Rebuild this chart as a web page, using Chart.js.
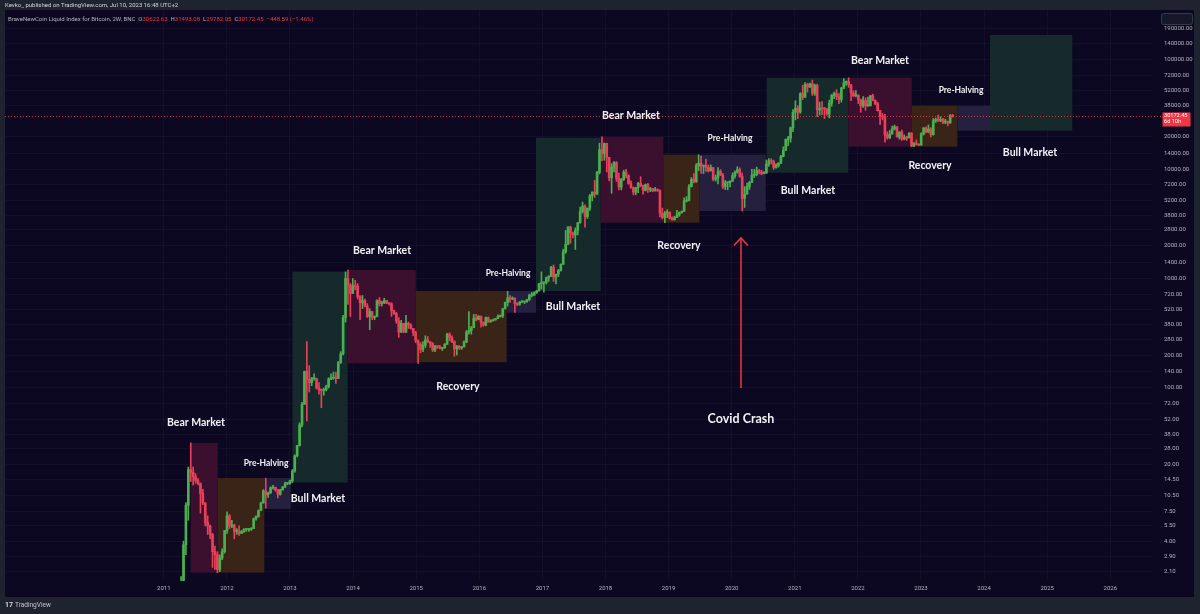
<!DOCTYPE html>
<html><head><meta charset="utf-8">
<script src="https://cdn.jsdelivr.net/npm/chart.js@4.4.0/dist/chart.umd.min.js"></script>
<style>html,body{margin:0;padding:0;background:#1f2330;overflow:hidden}canvas{display:block}</style>
</head><body><canvas id="c" width="1200" height="614"></canvas>
<script>
// ---- data (2-week candles, BraveNewCoin Liquid Index for Bitcoin) ----
const startYear = 2011 + 86 / 365;      // first candle opens 2011-03-28
const periodYears = 14 / 365.25;         // 2W candles
const firstOpen = 0.78;
const closes = [0.75,1.6,3.7,8.5,18.0,17.0,15.5,14.3,13.4,10.9,8.9,5.9,5.5,4.6,3.2,3.0,2.2,2.8,3.2,5.0,
6.8,5.5,5.6,4.9,4.9,4.7,4.9,5.1,5.1,5.1,5.2,6.4,6.7,7.6,8.9,11.5,10.6,11.0,12.3,12.4,
11.7,10.7,11.7,12.5,13.4,13.4,14.2,17.5,24,29.8,46,71,142,120,112,122,122,100,96,95,
96,103,121,123,124,122,170,205,440,1000,870,730,860,850,680,600,630,560,450,500,
440,450,630,590,600,630,595,590,510,480,410,325,390,325,390,375,350,320,270,250,
225,245,275,265,255,223,240,237,230,233,250,310,290,265,228,240,232,238,262,325,
335,355,435,420,450,400,375,440,400,410,420,430,450,455,530,605,665,650,660,590,
580,610,610,615,640,700,705,735,770,895,910,920,1015,1050,1270,1030,1090,1180,1350,1750,
2050,2950,2600,2500,2750,3230,4100,4580,3680,4380,5700,6140,5900,9300,15000,13900,17100,12800,8300,10400,
11450,8200,6850,8000,9350,8700,7350,6780,6150,6770,7400,7030,6400,7200,6500,6620,6300,6450,6380,3950,
3600,3950,4050,3550,3450,3600,3800,4000,4100,5100,5150,6900,8050,7650,10700,11300,10600,10800,10300,9600,
10300,8050,8300,9550,8800,6900,7500,7500,7750,8700,9350,9900,8550,5400,5900,6900,7550,8750,8900,9700,
9350,9050,9150,11100,11850,11700,10350,10750,11300,13000,14800,18600,19150,23800,33000,36000,33100,48800,45200,59000,
55800,60100,49100,58200,34700,35800,35500,35300,31800,39900,47000,48900,46000,43200,54700,61300,63300,58700,49400,46700,
47300,43100,37900,42200,37700,37800,46800,42300,39500,34100,30300,29900,20500,19300,20800,23300,24300,19600,21800,18800,
19400,19200,21300,16300,17100,16750,16550,20900,23700,21800,23200,20600,27500,28300,27800,28400,26800,27200,26300,30622.63,
30172.45];
const highs = [0.95,1.9,4.0,9.0,19,31.5,19,16.5,14.9,13.6,11.9,9.0,6.8,5.6,4.7,3.6,3.2,3.0,3.4,5.0,
7.4,7.0,6.2,5.7,5.2,5.5,5.0,5.2,5.2,5.2,5.3,6.5,6.8,7.7,9.1,11.8,15.0,11.2,12.5,12.9,
12.2,11.9,11.9,12.6,13.8,13.7,14.4,18,24.5,30,48,74,143,266,160,125,135,123,112,98,
100,106,124,135,140,140,175,215,460,1150,1195,900,1000,960,900,700,700,650,590,530,
500,455,640,670,620,660,630,600,600,515,490,440,415,390,460,400,385,340,330,275,
260,265,300,295,265,260,245,245,245,235,255,315,320,300,270,245,245,240,270,335,
500,365,470,470,460,455,400,445,445,420,425,432,465,465,535,610,765,700,680,665,
600,615,630,620,645,720,745,755,780,905,1150,930,1030,1060,1290,1330,1100,1210,1360,1850,
2750,2980,3000,2650,2900,3250,4480,4980,4700,4400,5860,6200,7880,9500,17200,19650,17300,17200,11700,11200,
11700,11700,9180,8200,9750,9950,8850,7800,6850,6800,7560,8500,7150,7300,7400,6800,6650,6800,6600,6450,
4400,4100,4250,4050,3650,3700,4200,4050,4150,5450,5600,7200,8350,9100,11200,13500,13100,10900,12300,10900,
10900,10350,8800,10300,9900,9150,7850,7600,7800,9200,9600,10500,10250,9200,6900,7450,7700,9950,9950,10400,
9950,9750,9450,12100,12450,12400,12050,11150,11450,13350,15950,18800,19900,24200,34800,41950,38000,49700,58300,61700,
60600,61000,64900,59500,59600,40800,41300,36600,35900,42600,48100,50500,52900,48800,56000,67000,63600,68200,59200,51900,
52000,47500,43500,45800,44700,45400,46900,48200,42900,40800,34300,32300,31600,21900,22500,24600,25200,24400,21800,22700,
20500,19900,21400,21400,17400,18400,16950,21400,23900,24250,25250,23900,28900,29200,31000,30000,29000,28450,27400,31400,
31493.08];
const lows = [0.67,0.7,1.5,3.0,6.2,14,13,13.5,13.0,7.2,8.6,5.5,4.6,4.2,2.3,2.2,2.06,2.1,2.7,3.1,
4.7,5.2,5.3,4.2,4.6,4.5,4.8,4.8,4.9,4.9,5.0,5.2,6.2,6.6,7.6,8.9,8.0,10.0,10.9,11.9,
11.4,9.9,10.5,11.7,12.3,13.1,13.2,13.7,17,23.5,29.5,44,71,50,92,105,118,98,88,66,
86,94,100,119,120,110,122,168,200,400,580,450,730,790,650,420,530,550,440,340,
420,420,445,560,560,590,590,570,450,470,390,290,320,320,320,350,345,300,260,168,
210,215,235,260,235,215,215,230,228,220,230,250,270,260,195,200,225,225,236,260,
310,310,355,410,420,360,365,370,400,400,410,415,430,445,440,525,560,605,640,490,
565,570,600,590,605,630,680,700,740,765,800,750,890,940,1040,940,890,1040,1170,1340,
1700,2050,2100,2350,1840,2500,3200,3950,2950,3530,4180,5110,5500,5850,9000,11900,12000,9400,7800,6000,
9400,7700,6450,6450,7850,8300,7250,6650,5800,5800,6080,6900,5880,6300,6100,6200,6200,6350,6240,3650,
3500,3234,3600,3500,3400,3400,3600,3700,3950,4100,5000,5100,6850,7450,7550,9650,9100,9100,9500,9400,
9700,7800,7750,7300,8700,6600,6500,6450,6850,7700,8250,9150,8400,4134,4450,5900,6500,7500,8350,8650,
9000,8850,9050,9250,10600,11100,9900,10200,10400,11200,12900,14800,16300,17600,21900,28100,28800,32300,43000,45000,
50400,55900,47000,47000,30000,31100,31400,28800,31100,29300,37400,43900,43000,39600,40800,54000,58000,55600,42000,45600,
45500,39600,33000,36600,34400,37200,37600,42000,38600,33800,25400,28100,17600,18700,18900,20800,22700,19600,18700,18200,
18500,18200,19200,15990,15990,16600,16350,16500,20400,21400,21500,19600,20400,26600,27100,27000,25900,25900,24800,26200,
29782.05];

// cycle boxes (time in years, price)
const boxStart = [2011.426,2011.854,2012.593,2013.040,2013.914,2014.992,2016.434,2016.898,2017.924,2018.916,2019.487,2020.555,2021.848,2022.853,2023.576,2024.094];
const boxEnd   = [2011.854,2012.593,2013.011,2013.914,2014.992,2016.434,2016.898,2017.924,2018.916,2019.487,2020.540,2021.848,2022.853,2023.576,2024.094,2025.398];
const boxLow   = [2.06,2.06,7.86,13.7,168,172,487,769,3234,3234,4134,9250,15990,15990,22390,22390];
const boxHigh  = [31.5,15.07,15.07,1154,1196,769,769,19300,19700,13510,13510,68200,68200,37860,37860,167500];
const boxKind  = ['bear','recovery','pre','bull','bear','recovery','pre','bull','bear','recovery','pre','bull','bear','recovery','pre','bull'];

// phase labels (anchored in data coordinates)
const labelTexts  = ['Bear Market','Pre-Halving','Bull Market','Bear Market','Recovery','Pre-Halving','Bull Market','Bear Market','Pre-Halving','Recovery','Bull Market','Bear Market','Pre-Halving','Recovery','Bull Market','Covid Crash'];
const labelYears  = [2011.51,2012.62,2013.443,2014.458,2015.662,2016.455,2017.485,2018.404,2019.973,2019.165,2021.208,2022.35,2023.634,2023.143,2024.728,2020.147];
const labelPrices = [47.9,20.7,9.69,1783,102,1123,549,30480,19190,1981,6295,96900,52630,10650,13990,52.1];
const labelKinds  = ['phase','small','phase','phase','phase','small','phase','phase','small','phase','phase','phase','small','phase','phase','big'];
const arrowYear = 2020.147, arrowFrom = 100, arrowTo = 2345;

const yearTicks = [2011,2012,2013,2014,2015,2016,2017,2018,2019,2020,2021,2022,2023,2024,2025,2026];
const priceTicks = [2.1,2.9,4,5.5,7.5,10.5,14.5,20,28,38,52,72,100,140,200,280,380,520,720,1000,1400,2000,2800,3800,5200,7200,10000,14000,20000,38000,52000,72000,100000,140000,190000];
const lastPrice = 30172.45;
const legendOHLC = ['30622.63','31493.08','29782.05','30172.45'];
const legendChange = '\u2212448.59 (\u22121.46%)';

// ---- styles ----
const BG = '#0c0821', FRAME = '#1f2330';
const GREEN = '#4caf50', RED = '#e8415a';
const BOXCOL = {bear:'#3a102e', recovery:'#3a2418', pre:'#24203e', bull:'#162a2c'};

// ---- build candles ----
const wickData = [], bodyData = [], candleColors = [];
for (let i = 0; i < closes.length; i++) {
  const o = i === 0 ? firstOpen : closes[i - 1];
  const c = closes[i];
  const x = startYear + i * periodYears;
  wickData.push({x, y: [Math.min(lows[i], o, c), Math.max(highs[i], o, c)]});
  bodyData.push({x, y: [Math.min(o, c), Math.max(o, c)]});
  candleColors.push(c >= o ? GREEN : RED);
}

const framePlugin = {
  id: 'frame',
  beforeDraw(chart) {
    const g = chart.ctx;
    g.save();
    g.fillStyle = FRAME; g.fillRect(0, 0, chart.width, chart.height);
    g.fillStyle = BG; g.fillRect(5, 10, 1189, 587);
    g.restore();
  },
  beforeDatasetsDraw(chart) {
    const g = chart.ctx, xs = chart.scales.x, ys = chart.scales.y, a = chart.chartArea;
    g.save();
    g.beginPath(); g.rect(a.left, a.top, a.right - a.left, a.bottom - a.top); g.clip();
    for (let i = 0; i < boxStart.length; i++) {
      const x0 = xs.getPixelForValue(boxStart[i]), x1 = xs.getPixelForValue(boxEnd[i]);
      const y0 = ys.getPixelForValue(boxHigh[i]), y1 = ys.getPixelForValue(boxLow[i]);
      g.fillStyle = BOXCOL[boxKind[i]];
      g.fillRect(x0, y0, x1 - x0, y1 - y0);
    }
    g.restore();
  },
  afterDatasetsDraw(chart) {
    const g = chart.ctx, xs = chart.scales.x, ys = chart.scales.y, a = chart.chartArea;
    g.save();
    // last price dotted line
    const py = Math.round(ys.getPixelForValue(lastPrice)) + 0.5;
    g.strokeStyle = 'rgba(242,54,69,0.85)'; g.lineWidth = 1; g.setLineDash([1, 2]);
    g.beginPath(); g.moveTo(a.left, py); g.lineTo(1162, py); g.stroke();
    g.setLineDash([]);
    // phase labels
    g.fillStyle = '#f2f2f5'; g.textAlign = 'center'; g.textBaseline = 'middle';
    for (let i = 0; i < labelTexts.length; i++) {
      const k = labelKinds[i];
      g.font = k === 'small' ? 'bold 8.5px Lato' : (k === 'big' ? 'bold 12.5px Lato' : 'bold 10.5px Lato');
      g.fillText(labelTexts[i], xs.getPixelForValue(labelYears[i]), ys.getPixelForValue(labelPrices[i]));
    }
    // covid arrow
    const ax = xs.getPixelForValue(arrowYear);
    const ay0 = ys.getPixelForValue(arrowFrom), ay1 = ys.getPixelForValue(arrowTo);
    g.strokeStyle = '#f23645'; g.lineWidth = 1.5;
    g.beginPath(); g.moveTo(ax, ay0); g.lineTo(ax, ay1); g.stroke();
    g.beginPath(); g.moveTo(ax - 7, ay1 + 7.5); g.lineTo(ax, ay1); g.lineTo(ax + 7, ay1 + 7.5); g.stroke();
    g.restore();
  },
  afterDraw(chart) {
    const g = chart.ctx, ys = chart.scales.y;
    g.save();
    // right & bottom frame
    g.fillStyle = FRAME; g.fillRect(1194, 0, 6, 614); g.fillRect(0, 597, 1200, 17);
    // header
    g.textBaseline = 'middle'; g.textAlign = 'left';
    g.font = '6px Roboto'; g.fillStyle = '#d1d4dc';
    g.fillText('Kevko_ published on TradingView.com, Jul 10, 2023 16:48 UTC+2', 5, 5.5);
    // legend line
    let x = 8; const ly = 19;
    const piece = (t, col) => { g.fillStyle = col; g.fillText(t, x, ly); x += g.measureText(t).width; };
    piece('BraveNewCoin Liquid Index for Bitcoin, 2W, BNC  ', '#b2b5be');
    ['O','H','L','C'].forEach((k, i) => { piece(k, '#b2b5be'); piece(legendOHLC[i] + '  ', '#f23645'); });
    piece(legendChange, '#f23645');
    // last price tag
    const py = ys.getPixelForValue(lastPrice);
    g.fillStyle = '#f23645'; g.fillRect(1162.5, py - 4, 28, 14);
    g.fillStyle = '#ffffff'; g.font = '5.6px Roboto';
    g.fillText(lastPrice.toFixed(2), 1164, py - 0.5);
    g.fillText('6d 10h', 1164, py + 5.5);
    // top right button
    g.strokeStyle = '#363a45'; g.fillStyle = '#15172a'; g.lineWidth = 1;
    g.beginPath(); g.roundRect(1161.5, 13.5, 31, 11, 2); g.fill(); g.stroke();
    // footer logo
    g.fillStyle = '#d1d4dc'; g.font = 'bold 7px Roboto';
    g.fillText('17', 5, 605);
    g.font = '6.5px Roboto'; g.fillStyle = '#c3c6ce';
    g.fillText('TradingView', 15, 605);
    g.restore();
  }
};

const tickFont = {family: 'Roboto', size: 6};
new Chart(document.getElementById('c'), {
  type: 'bar',
  data: {
    datasets: [
      {data: wickData, backgroundColor: candleColors, barThickness: 1, grouped: false, borderWidth: 0},
      {data: bodyData, backgroundColor: candleColors, barThickness: 2, grouped: false, borderWidth: 0, minBarLength: 1}
    ]
  },
  options: {
    responsive: false, animation: false, devicePixelRatio: 1,
    layout: {autoPadding: false, padding: {left: 5, top: 10, right: 0, bottom: 17}},
    plugins: {legend: {display: false}, tooltip: {enabled: false}},
    scales: {
      x: {
        type: 'linear', min: 2008.4834, max: 2026.6609, bounds: 'data', offset: false,
        grid: {color: 'rgba(130,130,170,0.06)', drawTicks: true, tickLength: 4, tickColor: 'rgba(0,0,0,0)', offset: false},
        border: {display: false},
        ticks: {color: '#b2b5be', font: tickFont, padding: 0, autoSkip: false, maxRotation: 0, callback: v => String(v)},
        afterBuildTicks: s => { s.ticks = yearTicks.map(v => ({value: v})); },
        afterFit: s => { s.height = 16; }
      },
      y: {
        type: 'logarithmic', position: 'right', min: 1.7275, max: 283200, bounds: 'data',
        grid: {color: 'rgba(130,130,170,0.06)', drawTicks: true, tickLength: 12, tickColor: 'rgba(0,0,0,0)'},
        border: {display: false},
        ticks: {color: '#b2b5be', font: tickFont, padding: 0, autoSkip: false, callback: v => Number(v).toFixed(2)},
        afterBuildTicks: s => { s.ticks = priceTicks.map(v => ({value: v})); },
        afterFit: s => { s.width = 48; }
      }
    }
  },
  plugins: [framePlugin]
});
</script></body></html>
